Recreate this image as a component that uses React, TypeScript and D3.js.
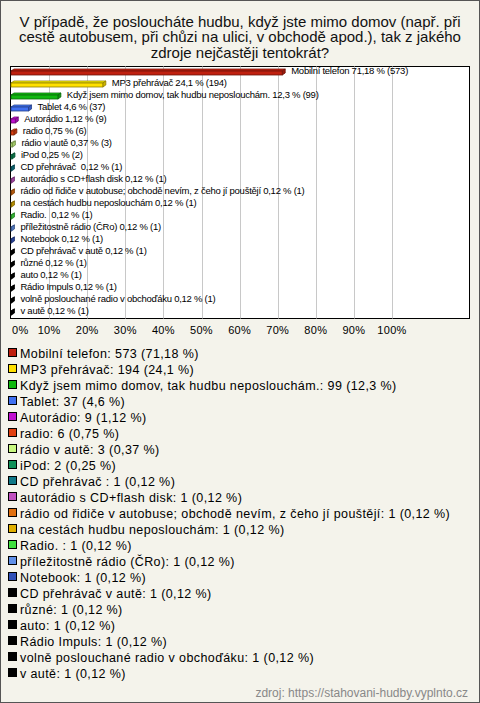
import React from 'react';
import * as d3 from 'd3';

const TITLE_LINES = [
  'V případě, že posloucháte hudbu, když jste mimo domov (např. při',
  'cestě autobusem, při chůzi na ulici, v obchodě apod.), tak z jakého',
  'zdroje nejčastěji tentokrát?',
];

const CATEGORIES = [
  'Mobilní telefon',
  'MP3 přehrávač',
  'Když jsem mimo domov, tak hudbu neposlouchám.',
  'Tablet',
  'Autorádio',
  'radio',
  'rádio v autě',
  'iPod',
  'CD přehrávač ',
  'autorádio s CD+flash disk',
  'rádio od řidiče v autobuse; obchodě nevím, z čeho jí pouštějí',
  'na cestách hudbu neposlouchám',
  'Radio. ',
  'příležitostně rádio (ČRo)',
  'Notebook',
  'CD přehrávač v autě',
  'různé',
  'auto',
  'Rádio Impuls',
  'volně poslouchané radio v obchoďáku',
  'v autě',
];

const COUNTS = [573, 194, 99, 37, 9, 6, 3, 2, 1, 1, 1, 1, 1, 1, 1, 1, 1, 1, 1, 1, 1];
const PERCENTS = [71.18, 24.1, 12.3, 4.6, 1.12, 0.75, 0.37, 0.25, 0.12, 0.12, 0.12, 0.12, 0.12, 0.12, 0.12, 0.12, 0.12, 0.12, 0.12, 0.12, 0.12];

const COLORS = [
  '#c0200f', '#ffe000', '#10b810', '#4070f0', '#c010d0', '#e04010', '#c8f880',
  '#109058', '#107888', '#c050c0', '#e07010', '#e0b000', '#40e040', '#6090e8',
  '#3050b8', '#000000', '#000000', '#000000', '#000000', '#000000', '#000000',
];

const X_TICKS = [0, 10, 20, 30, 40, 50, 60, 70, 80, 90, 100];

const FONT = '"Liberation Sans", Arial, sans-serif';
const fmt = (v: number) => String(v).replace('.', ',');

export default function App() {
  const width = 480;
  const height = 703;
  const plot = { left: 10.5, top: 66.5, right: 469.5, bottom: 318.5 };

  const x = d3.scaleLinear().domain([0, 100]).range([11, 392]);
  const y = d3.scalePoint<number>().domain(d3.range(CATEGORIES.length)).range([71, 311]);
  const ly = d3.scalePoint<number>().domain(d3.range(CATEGORIES.length)).range([353, 673]);

  const dx = 3;
  const dy = 2;
  const h = 4;

  return (
    <>
      <style>{`body{margin:0;overflow:hidden}`}</style>
      <svg width={width} height={height} style={{ display: 'block', fontFamily: FONT }}>
        <rect x={0.5} y={0.5} width={width - 1} height={height - 1} fill="#f4f3eb" stroke="#555" />

        {TITLE_LINES.map((t, i) => (
          <text key={i} x={240} y={27 + i * 15.3} textAnchor="middle" fontSize={15} fill="#111">
            {t}
          </text>
        ))}

        <rect x={plot.left} y={plot.top} width={plot.right - plot.left} height={plot.bottom - plot.top}
          fill="#fff" stroke="#000" />
        {X_TICKS.slice(1).map((t) => (
          <line key={t} x1={Math.round(x(t)) + 0.5} x2={Math.round(x(t)) + 0.5}
            y1={plot.top} y2={plot.bottom} stroke="#c8c8c8" />
        ))}

        {CATEGORIES.map((name, i) => {
          const c = Math.round(y(i) ?? 0);
          const x0 = x(0);
          const x1 = x(PERCENTS[i]);
          const col = d3.color(COLORS[i])!;
          const edge = COLORS[i] === '#000000' ? '#000' : col.darker(1.6).formatHex();
          return (
            <g key={i}>
              <polygon
                points={`${x0},${c} ${x0 + dx},${c - dy} ${x1 + dx},${c - dy} ${x1},${c}`}
                fill={col.brighter(0.3).formatHex()} stroke={edge} strokeWidth={0.8} />
              <polygon
                points={`${x1},${c} ${x1 + dx},${c - dy} ${x1 + dx},${c - dy + h} ${x1},${c + h}`}
                fill={col.darker(0.6).formatHex()} stroke={edge} strokeWidth={0.8} />
              <rect x={x0} y={c} width={x1 - x0} height={h} fill={COLORS[i]} stroke={edge} strokeWidth={0.8} />
              <text x={x1 + dx + 6} y={c} dy="0.35em" fontSize={9.5} letterSpacing={-0.25}
                style={{ whiteSpace: 'pre' }} fill="#000">
                {`${name} ${fmt(PERCENTS[i])} % (${COUNTS[i]})`}
              </text>
            </g>
          );
        })}

        {X_TICKS.map((t) => (
          <text key={t} x={t === 0 ? 12 : x(t)} y={334} fontSize={11} letterSpacing={0.3}
            textAnchor={t === 0 ? 'start' : 'middle'} fill="#000">
            {`${t}%`}
          </text>
        ))}

        {CATEGORIES.map((name, i) => {
          const cy = ly(i) ?? 0;
          return (
            <g key={i}>
              <rect x={8.5} y={Math.round(cy) - 4.5} width={8} height={8} fill={COLORS[i]} stroke="#000" />
              <text x={20} y={cy} dy="0.36em" fontSize={12.5} letterSpacing={0.4}
                style={{ whiteSpace: 'pre' }} fill="#000">
                {`${name}: ${COUNTS[i]} (${fmt(PERCENTS[i])} %)`}
              </text>
            </g>
          );
        })}

        <text x={468} y={697} textAnchor="end" fontSize={12} fill="#888">
          zdroj: https://stahovani-hudby.vyplnto.cz
        </text>
      </svg>
    </>
  );
}
